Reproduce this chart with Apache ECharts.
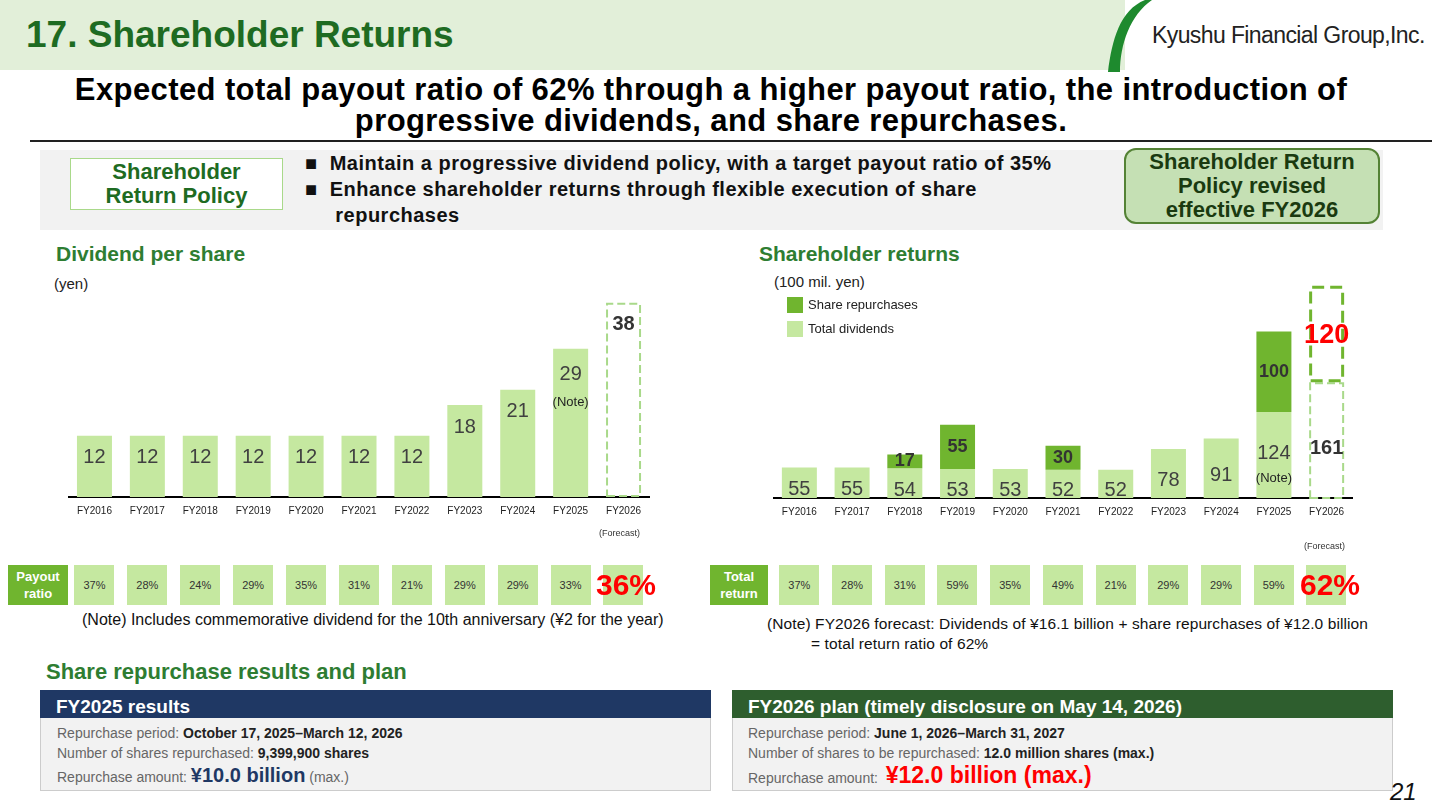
<!DOCTYPE html>
<html><head><meta charset="utf-8">
<script src="https://cdn.jsdelivr.net/npm/echarts@6/dist/echarts.min.js"></script>
<style>
body{margin:0;width:1440px;height:810px;position:relative;overflow:hidden;background:#fff;font-family:Arial,"Liberation Sans",sans-serif;}
.a{position:absolute;}
.box{position:absolute;background:#c5e8a0;width:40px;height:40px;top:565px;font-size:11px;color:#333;display:flex;align-items:center;justify-content:center;}
.lbl{position:absolute;background:#70b52f;color:#fff;font-weight:bold;font-size:13px;text-align:center;display:flex;align-items:center;justify-content:center;line-height:17px;}
.big{position:absolute;color:#ff0000;font-weight:bold;font-size:30px;top:568px;}
</style></head><body>
<div class="a" style="left:0;top:0;width:1125px;height:70px;background:#e2efd9"></div>
<div class="a" style="left:26px;top:14px;font-size:37px;font-weight:bold;color:#1e6b22">17. Shareholder Returns</div>
<svg class="a" style="left:1090px;top:0" width="70" height="72"><path d="M55 0 C30 10 22 40 18 72 L30 72 C30 45 40 15 62 0 Z" fill="#1e8a2e"/></svg>
<div class="a" style="left:1152px;top:22px;font-size:23px;color:#222;letter-spacing:-0.6px">Kyushu Financial Group,Inc.</div>
<div class="a" style="left:0;width:1422px;top:74px;text-align:center;font-size:31px;font-weight:bold;line-height:31px;color:#000;letter-spacing:0.4px">Expected total payout ratio of 62% through a higher payout ratio, the introduction of<br>progressive dividends, and share repurchases.</div>
<div class="a" style="left:30px;top:140px;width:1402px;height:2px;background:#222"></div>
<div class="a" style="left:40px;top:150px;width:1343px;height:80px;background:#f2f2f2"></div>
<div class="a" style="left:70px;top:158px;width:211px;height:49px;background:#fff;border:1px solid #a9d98a;color:#1e6b22;font-weight:bold;font-size:22px;text-align:center;line-height:24px;padding-top:1px">Shareholder<br>Return Policy</div>
<div class="a" style="left:305px;top:150px;font-size:20px;font-weight:bold;line-height:26px;color:#111;letter-spacing:0.5px">■&nbsp; Maintain a progressive dividend policy, with a target payout ratio of 35%<br>■&nbsp; Enhance shareholder returns through flexible execution of share<br>&nbsp;&nbsp;&nbsp;&nbsp;&nbsp;repurchases</div>
<div class="a" style="left:1124px;top:148px;width:252px;height:72px;background:#c5e0b4;border:2px solid #548235;border-radius:12px;text-align:center;font-size:22px;font-weight:bold;line-height:24px;color:#1a3a10">Shareholder Return<br>Policy revised<br>effective FY2026</div>
<div class="a" style="left:56px;top:242px;font-size:21px;font-weight:bold;color:#2e7d32">Dividend per share</div>
<div class="a" style="left:54px;top:275px;font-size:15px;color:#222">(yen)</div>
<div class="a" style="left:759px;top:242px;font-size:21px;font-weight:bold;color:#2e7d32">Shareholder returns</div>
<div class="a" style="left:774px;top:273px;font-size:15px;color:#222">(100 mil. yen)</div>
<div id="c1" class="a" style="left:68px;top:280px;width:582px;height:270px"></div>
<div id="c2" class="a" style="left:773px;top:280px;width:580px;height:270px"></div>
<div class="a" style="left:599px;top:528px;font-size:9px;color:#333">(Forecast)</div>
<div class="a" style="left:1304px;top:541px;font-size:9px;color:#333">(Forecast)</div>
<div class="lbl" style="left:8px;top:565px;width:60px;height:40px">Payout<br>ratio</div>
<div class="lbl" style="left:710px;top:565px;width:58px;height:40px">Total<br>return</div>
<div id="pay"></div>
<div class="a" style="left:82px;top:611px;font-size:16px;color:#111">(Note) Includes commemorative dividend for the 10th anniversary (¥2 for the year)</div>
<div class="a" style="left:767px;top:614px;font-size:15.5px;color:#111;line-height:20px;letter-spacing:0.1px">(Note) FY2026 forecast: Dividends of ¥16.1 billion + share repurchases of ¥12.0 billion<br>&nbsp;&nbsp;&nbsp;&nbsp;&nbsp;&nbsp;&nbsp;&nbsp;&nbsp;&nbsp;= total return ratio of 62%</div>
<div class="a" style="left:46px;top:659px;font-size:22px;font-weight:bold;color:#2e7d32">Share repurchase results and plan</div>
<div class="a" style="left:40px;top:690px;width:669px;height:99px;background:#f2f2f2;border:1px solid #ccc"></div>
<div class="a" style="left:40px;top:690px;width:671px;height:28px;background:#1f3864;color:#fff;font-size:19px;font-weight:bold;line-height:34px;padding-left:16px;box-sizing:border-box">FY2025 results</div>
<div class="a" style="left:57px;top:723px;font-size:14px;color:#666;line-height:20px">Repurchase period: <b style="color:#222">October 17, 2025–March 12, 2026</b><br>Number of shares repurchased: <b style="color:#222">9,399,900 shares</b></div>
<div class="a" style="left:57px;top:764px;font-size:14px;color:#666">Repurchase amount: <b style="color:#1f3864;font-size:20px">¥10.0 billion</b> (max.)</div>
<div class="a" style="left:732px;top:690px;width:659px;height:99px;background:#f2f2f2;border:1px solid #ccc"></div>
<div class="a" style="left:732px;top:690px;width:661px;height:28px;background:#2e5e2e;color:#fff;font-size:19px;font-weight:bold;line-height:34px;padding-left:16px;box-sizing:border-box">FY2026 plan (timely disclosure on May 14, 2026)</div>
<div class="a" style="left:748px;top:723px;font-size:14px;color:#666;line-height:20px">Repurchase period: <b style="color:#222">June 1, 2026–March 31, 2027</b><br>Number of shares to be repurchased: <b style="color:#222">12.0 million shares (max.)</b></div>
<div class="a" style="left:748px;top:762px;font-size:14px;color:#666">Repurchase amount:&nbsp; <b style="color:#ff0000;font-size:23px">¥12.0 billion (max.)</b></div>
<div class="a" style="left:1390px;top:778px;font-size:24px;font-style:italic;color:#111">21</div>
<script>
var years = ['FY2016','FY2017','FY2018','FY2019','FY2020','FY2021','FY2022','FY2023','FY2024','FY2025','FY2026'];
var dps = [12,12,12,12,12,12,12,18,21,29,38];
var payout = ['37%','28%','24%','29%','35%','31%','21%','29%','29%','33%','36%'];
var dividends = [55,55,54,53,53,52,52,78,91,124,161];
var repurchases = [null,null,17,55,null,30,null,null,null,100,120];
var totalReturn = ['37%','28%','31%','59%','35%','49%','21%','29%','29%','59%','62%'];

var light='#c5e8a0', dark='#70b52f';
var html='';
for(var i=0;i<11;i++){
  var x1=68+52.9*(i+0.5), x2=773+52.7*(i+0.5);
  html+='<div class="box" style="left:'+(x1-20)+'px">'+(i<10?payout[i]:'')+'</div>';
  html+='<div class="box" style="left:'+(x2-20)+'px">'+(i<10?totalReturn[i]:'')+'</div>';
}
html+='<div class="big" style="left:596px">'+payout[10]+'</div>';
html+='<div class="big" style="left:1300px">'+totalReturn[10]+'</div>';
document.getElementById('pay').innerHTML=html;

var xAx={type:'category',data:years,axisLine:{lineStyle:{color:'#000',width:2}},axisTick:{show:false},
  axisLabel:{fontSize:10,color:'#222',margin:9}};

var c1=echarts.init(document.getElementById('c1'));
c1.setOption({
  animation:false,
  grid:{left:0,right:0,top:10,bottom:53},
  xAxis:xAx,
  yAxis:{type:'value',min:0,max:40.5,show:false},
  series:[{type:'bar',barWidth:35,
    data:dps.map(function(v,i){
      if(i==10) return {value:v,itemStyle:{color:'rgba(0,0,0,0)',borderColor:'#a9d98a',borderWidth:2,borderType:'dashed'},
        label:{fontWeight:'bold',fontSize:20,color:'#333'}};
      if(i==9) return {value:v,label:{formatter:'{a|29}\n{b|(Note)}',rich:{a:{fontSize:20,color:'#404040',lineHeight:28},b:{fontSize:13,color:'#222',lineHeight:28}}}};
      return {value:v,itemStyle:{color:light}};
    }),
    itemStyle:{color:light},
    label:{show:true,position:'insideTop',distance:12,fontSize:20,color:'#404040'}
  }]
});

var c2=echarts.init(document.getElementById('c2'));
c2.setOption({
  animation:false,
  grid:{left:0,right:0,top:0,bottom:52},
  legend:{orient:'vertical',left:9,top:12,itemWidth:16,itemHeight:16,itemGap:8,icon:'rect',
    textStyle:{fontSize:13,color:'#222'},data:['Share repurchases','Total dividends']},
  xAxis:xAx,
  yAxis:{type:'value',min:17,max:288,show:false},
  series:[
    {name:'Total dividends',type:'bar',stack:'t',barWidth:35,itemStyle:{color:light},
     data:dividends.map(function(v,i){
       if(i==10) return {value:v,itemStyle:{color:'rgba(0,0,0,0)',borderColor:'#a9d98a',borderWidth:2,borderType:'dashed'},
         label:{fontWeight:'bold',fontSize:20,color:'#333',position:'inside',offset:[0,8]}};
       if(i==9) return {value:v,label:{offset:[0,10],formatter:'{a|124}\n{b|(Note)}',rich:{a:{fontSize:20,color:'#404040',lineHeight:26},b:{fontSize:13,color:'#222',lineHeight:22}}}};
       return v;
     }),
     label:{show:true,position:'inside',offset:[0,7],fontSize:20,color:'#404040'}},
    {name:'Share repurchases',type:'bar',stack:'t',barWidth:35,itemStyle:{color:dark},
     data:repurchases.map(function(v,i){
       if(i==10) return {value:v,itemStyle:{color:'rgba(0,0,0,0)',borderColor:dark,borderWidth:3,borderType:'dashed'},
         label:{color:'#ff0000',fontSize:27,position:'insideTop',distance:36}};
       return v;
     }),
     label:{show:true,position:'inside',fontSize:18,fontWeight:'bold',color:'#333'}}
  ]
});
</script>
</body></html>
